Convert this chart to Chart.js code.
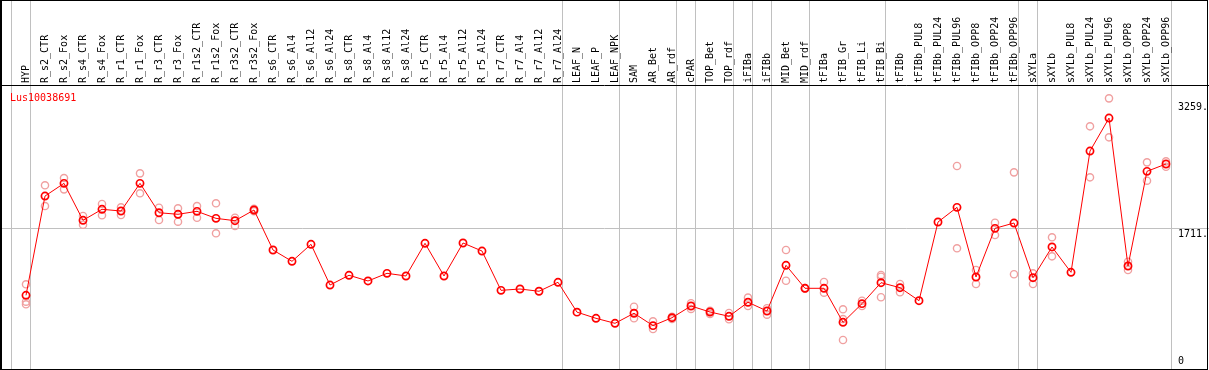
<!DOCTYPE html>
<html>
<head>
<meta charset="utf-8">
<script src="https://cdn.jsdelivr.net/npm/chart.js@4/dist/chart.umd.min.js"></script>
<style>
html,body{margin:0;padding:0;background:#fff;}
#wrap{width:1209px;height:370px;position:relative;}
</style>
</head>
<body>
<div id="wrap"><canvas id="c" width="1209" height="370"></canvas></div>
<script>
const geneName = "Lus10038691";

const categories = ["HYP","R_s2_CTR","R_s2_Fox","R_s4_CTR","R_s4_Fox","R_r1_CTR","R_r1_Fox","R_r3_CTR","R_r3_Fox",
"R_r1s2_CTR","R_r1s2_Fox","R_r3s2_CTR","R_r3s2_Fox","R_s6_CTR","R_s6_Al4","R_s6_Al12","R_s6_Al24",
"R_s8_CTR","R_s8_Al4","R_s8_Al12","R_s8_Al24","R_r5_CTR","R_r5_Al4","R_r5_Al12","R_r5_Al24",
"R_r7_CTR","R_r7_Al4","R_r7_Al12","R_r7_Al24","LEAF_N","LEAF_P","LEAF_NPK","SAM","AR_Bet","AR_rdf",
"cPAR","TOP_Bet","TOP_rdf","iFIBa","iFIBb","MID_Bet","MID_rdf","tFIBa","tFIB_Gr","tFIB_Li","tFIB_Bi",
"tFIBb","tFIBb_PUL8","tFIBb_PUL24","tFIBb_PUL96","tFIBb_OPP8","tFIBb_OPP24","tFIBb_OPP96",
"sXYLa","sXYLb","sXYLb_PUL8","sXYLb_PUL24","sXYLb_PUL96","sXYLb_OPP8","sXYLb_OPP24","sXYLb_OPP96"];

const meanValues = [851,2124,2287,1813,1954,1932,2287,1910,1890,1928,1838,1808,1945,1432,1287,1505,983,
1108,1035,1133,1099,1518,1099,1522,1419,915,932,903,1018,635,556,492,621,462,564,
714,637,582,762,650,1236,941,941,505,744,1013,949,782,1791,1979,1086,1710,1778,
1077,1471,1146,2701,3124,1227,2441,2535];

const replicates = [[992,769,736],[2262,1996],[2355,2210],[1868,1756],[2022,1877],[1979,1881],[2415,2159],
[1974,1817],[1967,1795],[1996,1846],[2031,1646],[1846,1740],[1960,1930],[],[],[],[],
[],[],[],[],[],[],[],[],[],[],[],[],[],[],[],[705,556],[518,419],[577,547],
[749,676],[654,612],[624,544],[821,714],[685,603],[1432,1038],[945,937],[1022,885],[672,547,278],[782,714],[1112,1090,826],
[996,890],[],[],[2509,1454],[1176,996],[1782,1624],[2428,1121],
[1133,996],[1595,1351],[],[3018,2364],[3377,2877],[1282,1176],[2556,2321],[2569,2500]];

const groupLines = [-0.79,0.23,28.23,31.23,34.23,35.23,37.23,38.23,39.23,41.23,45.23,52.23,53.23,60.26];
const yGridValues = [1711];
const yTickValues = [0,1711,3259];
const yTickLabels = ["0","1711.","3259."];

const FONT = {family:"'DejaVu Sans Mono', monospace", size:10};

const meanData = meanValues.map((v,i)=>({x:i,y:v}));
const repData = [];
replicates.forEach((arr,i)=>arr.forEach(v=>repData.push({x:i,y:v})));

function noPad(s){ s.paddingLeft = 0; s.paddingRight = 0; s.paddingTop = 0; s.paddingBottom = 0; }

const framePlugin = {
  id:'frame',
  beforeDraw(chart){
    const ctx = chart.ctx, W = chart.width, H = chart.height;
    const xs = chart.scales.x, ys = chart.scales.y;
    ctx.save();
    ctx.fillStyle = '#fff';
    ctx.fillRect(0,0,W,H);
    ctx.strokeStyle = '#c0c0c0';
    ctx.lineWidth = 1;
    groupLines.forEach(g=>{
      const px = Math.round(xs.getPixelForValue(g)) + 0.5;
      ctx.beginPath(); ctx.moveTo(px,0); ctx.lineTo(px,H); ctx.stroke();
    });
    yGridValues.forEach(v=>{
      const py = Math.round(ys.getPixelForValue(v)) + 0.5;
      ctx.beginPath(); ctx.moveTo(0,py); ctx.lineTo(W,py); ctx.stroke();
    });
    ctx.restore();
  },
  afterDraw(chart){
    const ctx = chart.ctx, W = chart.width, H = chart.height;
    const top = chart.chartArea.top;
    ctx.save();
    ctx.strokeStyle = '#000';
    ctx.lineWidth = 1;
    ctx.strokeRect(0.5,0.5,W-2,H-1);
    ctx.beginPath(); ctx.moveTo(0,top+0.5); ctx.lineTo(W,top+0.5); ctx.stroke();
    ctx.beginPath(); ctx.moveTo(1.5,0); ctx.lineTo(1.5,H); ctx.stroke();
    ctx.fillStyle = '#ff0000';
    ctx.font = "10px 'DejaVu Sans Mono', monospace";
    ctx.textBaseline = 'middle';
    ctx.textAlign = 'left';
    ctx.fillText(geneName, 10, top + 13);
    ctx.restore();
  }
};

new Chart(document.getElementById('c'), {
  type:'line',
  data:{
    datasets:[
      {
        label:'mean', data:meanData, order:1,
        borderColor:'#ff0000', borderWidth:1, tension:0,
        pointRadius:3.6, pointStyle:'circle',
        pointBorderColor:'#ff0000', pointBackgroundColor:'rgba(0,0,0,0)', pointBorderWidth:1.7
      },
      {
        label:'replicates', data:repData, order:2, showLine:false,
        borderColor:'#f0a0a0',
        pointRadius:3.6, pointStyle:'circle',
        pointBorderColor:'#f0a0a0', pointBackgroundColor:'rgba(0,0,0,0)', pointBorderWidth:1.4
      }
    ]
  },
  options:{
    responsive:false, animation:false,
    layout:{autoPadding:false, padding:{left:1,top:1,right:0,bottom:2}},
    plugins:{legend:{display:false}, tooltip:{enabled:false}, title:{display:false}},
    scales:{
      x:{
        type:'linear', position:'top',
        min:-25/19, max:60+(1171-1166)/19,
        grid:{display:false, drawTicks:false},
        border:{display:false},
        afterBuildTicks(s){ s.ticks = categories.map((_,i)=>({value:i})); },
        afterFit(s){ s.height = 84; noPad(s); },
        ticks:{
          autoSkip:false, minRotation:90, maxRotation:90, padding:2, labelOffset:12,
          color:'#000', font:FONT,
          callback:(v)=>categories[v]
        }
      },
      y:{
        type:'linear', position:'right',
        min:-81, max:3548,
        grid:{display:false, drawTicks:false},
        border:{display:false},
        afterBuildTicks(s){ s.ticks = yTickValues.map(v=>({value:v})); },
        afterFit(s){ s.width = 38; noPad(s); },
        ticks:{
          padding:7, color:'#000', font:FONT,
          callback:(v)=>{
            const lab = yTickLabels[yTickValues.indexOf(v)];
            return yGridValues.includes(v) ? ["", lab] : lab;
          }
        }
      }
    }
  },
  plugins:[framePlugin]
});
</script>
</body>
</html>
